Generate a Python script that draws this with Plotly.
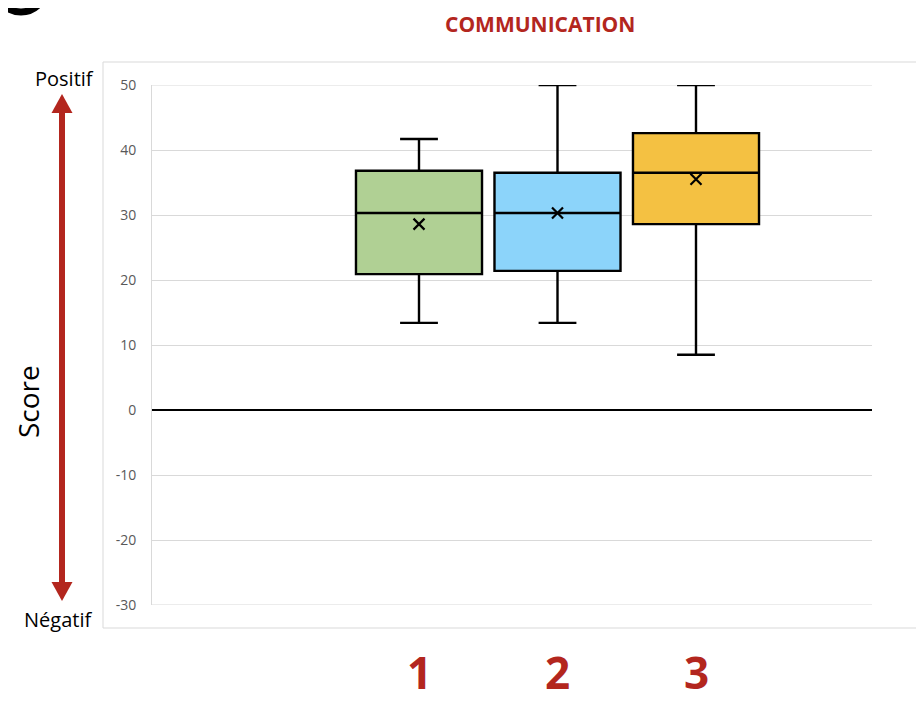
import plotly.graph_objects as go

# ---- data ----
categories = ["1", "2", "3"]
positions = [1, 2, 3]
q1 = [20.9, 21.4, 28.6]
median = [30.3, 30.3, 36.5]
q3 = [36.8, 36.5, 42.6]
lower_whisker = [13.4, 13.4, 8.5]
upper_whisker = [41.7, 50.0, 50.0]
means = [28.6, 30.3, 35.5]
fill_colors = ["#B0D094", "#8CD4FA", "#F4C142"]
y_ticks = [-30, -20, -10, 0, 10, 20, 30, 40, 50]
y_tick_labels = ["-30", "-20", "-10", "0", "10", "20", "30", "40", "50"]

RED = "#B3261E"
OFF = 8  # page body margin
W, H = 924 - OFF, 703 - OFF
# plot area in screenshot pixels
L, R, T, B = 152, 872, 85, 605


def px(x):
    return (x - L) / (R - L)


def py(y):
    return (B - y) / (B - T)


fig = go.Figure()
for i in range(len(categories)):
    fig.add_trace(go.Box(
        x=[positions[i]], q1=[q1[i]], median=[median[i]], q3=[q3[i]],
        lowerfence=[lower_whisker[i]], upperfence=[upper_whisker[i]],
        width=0.91, whiskerwidth=0.3, fillcolor=fill_colors[i],
        line=dict(color="black", width=2.4), showlegend=False, hoverinfo="skip",
        boxpoints=False,
    ))
fig.add_trace(go.Scatter(
    x=positions, y=means, mode="markers", showlegend=False,
    marker=dict(symbol="x-thin", size=11, line=dict(color="black", width=2.2)),
))

shapes = []
shapes.append(dict(type="rect", xref="paper", yref="paper",
                   x0=px(103), x1=px(940), y0=py(628), y1=py(62),
                   line=dict(color="#D9D9D9", width=1), layer="below"))
for yv in (y_ticks[0], y_ticks[-1]):
    shapes.append(dict(type="line", xref="paper", yref="y", x0=0, x1=1, y0=yv, y1=yv,
                       line=dict(color="#D9D9D9", width=1), layer="below"))
shapes.append(dict(type="line", xref="paper", yref="paper",
                   x0=px(62), x1=px(62), y0=py(110), y1=py(586),
                   line=dict(color=RED, width=6)))
shapes.append(dict(type="path", xref="paper", yref="paper",
                   path=f"M {px(62)} {py(94)} L {px(51.5)} {py(113)} L {px(72.5)} {py(113)} Z",
                   fillcolor=RED, line=dict(color=RED, width=0)))
shapes.append(dict(type="path", xref="paper", yref="paper",
                   path=f"M {px(62)} {py(601)} L {px(51.5)} {py(582)} L {px(72.5)} {py(582)} Z",
                   fillcolor=RED, line=dict(color=RED, width=0)))
shapes.append(dict(type="circle", xref="paper", yref="paper",
                   x0=px(-4), x1=px(46), y0=py(12), y1=py(-38),
                   line=dict(color="black", width=7)))

annotations = []


def label(text, x, y, size, color, xref="paper", angle=0):
    annotations.append(dict(text=text, xref=xref, yref="paper", x=x, y=y,
                            xanchor="center", yanchor="middle", showarrow=False,
                            textangle=angle,
                            font=dict(family="Open Sans", size=size, color=color)))


label("<b>COMMUNICATION</b>", px(540), py(24), 21, RED)
for i, c in enumerate(categories):
    label(f"<b>{c}</b>", positions[i], py(672), 44, RED, xref="x")
label("Score", px(28), py(402), 28, "black", angle=-90)
label("Positif", px(64), py(78), 20, "black")
label("Négatif", px(58), py(619), 20, "black")

fig.update_layout(
    width=W, height=H,
    margin=dict(l=L - OFF, r=W - (R - OFF), t=T - OFF, b=H - (B - OFF), pad=0),
    paper_bgcolor="white", plot_bgcolor="white",
    shapes=shapes, annotations=annotations,
    xaxis=dict(range=[1 - (419 - L) / 138.5, 1 + (R - 419) / 138.5],
               showticklabels=False, showgrid=False, zeroline=False, showline=False,
               ticks=""),
    yaxis=dict(range=[-30, 50], tickvals=y_ticks, ticktext=y_tick_labels,
               showgrid=True, gridcolor="#D9D9D9",
               gridwidth=1, zeroline=True, zerolinecolor="black", zerolinewidth=2,
               showline=True, linecolor="#D9D9D9", linewidth=1, ticks="",
               ticklabelstandoff=12,
               tickfont=dict(family="Open Sans", size=14, color="#595959")),
)

fig.write_html("out.html")
